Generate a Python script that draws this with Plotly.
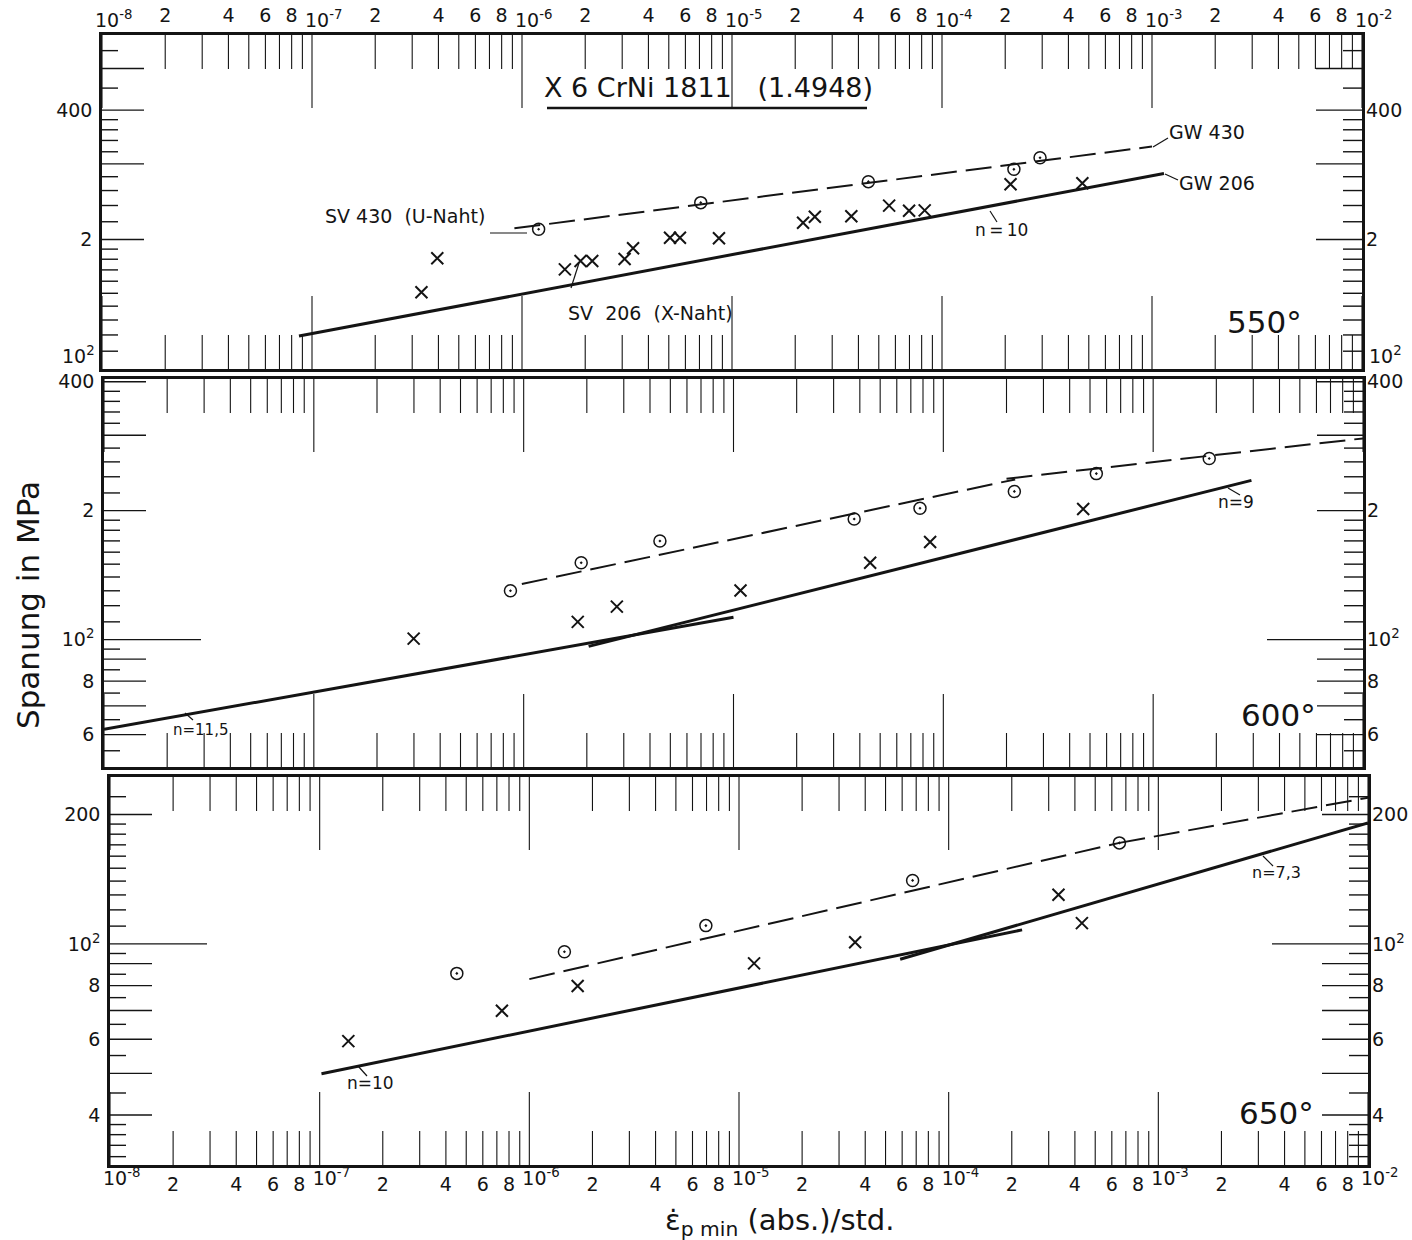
import math
import plotly.graph_objects as go

W, H = 1412, 1240
INK = "#141414"
FONT = "DejaVu Sans"

# ---------------- minimum creep rate (1/h) and stress (MPa) ----------------
# 550 °C
sv206_550_rate = [3.32e-7, 3.95e-7, 1.60e-6, 1.90e-6, 2.16e-6, 3.08e-6, 3.38e-6, 5.07e-6,
                  5.65e-6, 8.67e-6, 2.18e-5, 2.48e-5, 3.70e-5, 5.60e-5, 6.97e-5, 8.27e-5,
                  2.12e-4, 4.66e-4]
sv206_550_stress = [150.8, 180.9, 170.5, 178.3, 178.3, 180.3, 190.9, 202.0,
                    202.0, 201.4, 218.9, 226.0, 226.6, 239.8, 233.4, 233.8,
                    268.9, 270.3]
sv430_550_rate = [1.20e-6, 7.10e-6, 4.46e-5, 2.20e-4, 2.93e-4]
sv430_550_stress = [211.3, 243.7, 272.7, 291.3, 310.0]
gw206_550_rate = [8.67e-8, 1.14e-3]
gw206_550_stress = [119.3, 285.0]
gw430_550_rate = [9.2e-7, 1.0e-3]
gw430_550_stress = [212.4, 329.0]

# 600 °C
sv206_600_rate = [2.99e-7, 1.81e-6, 2.78e-6, 1.08e-5, 4.48e-5, 8.65e-5, 4.64e-4]
sv206_600_stress = [100.5, 110.0, 119.4, 130.2, 151.1, 169.0, 201.8]
sv430_600_rate = [8.65e-7, 1.88e-6, 4.46e-6, 3.76e-5, 7.74e-5, 2.18e-4, 5.36e-4, 1.85e-3]
sv430_600_stress = [130.0, 151.1, 169.9, 191.2, 202.6, 221.8, 244.1, 264.8]
gw206_600a_rate = [1.0e-8, 1.0e-5]
gw206_600a_stress = [61.7, 112.7]
gw206_600b_rate = [2.04e-6, 2.94e-3]
gw206_600b_stress = [96.4, 235.4]
gw430_600a_rate = [9.8e-7, 2.2e-4]
gw430_600a_stress = [134.8, 236.6]
gw430_600b_rate = [2.0e-4, 1.0e-2]
gw430_600b_stress = [237.5, 295.0]

# 650 °C
sv206_650_rate = [1.37e-7, 7.40e-7, 1.70e-6, 1.18e-5, 3.58e-5, 3.34e-4, 4.32e-4]
sv206_650_stress = [59.4, 69.9, 79.8, 90.1, 100.9, 130.1, 111.8]
sv430_650_rate = [4.51e-7, 1.47e-6, 6.95e-6, 6.73e-5, 6.52e-4]
sv430_650_stress = [85.4, 95.9, 110.3, 140.5, 171.8]
gw206_650a_rate = [1.02e-7, 2.24e-4]
gw206_650a_stress = [49.9, 107.8]
gw206_650b_rate = [5.87e-5, 1.0e-2]
gw206_650b_stress = [92.1, 191.2]
gw430_650a_rate = [1.0e-6, 6.52e-4]
gw430_650a_stress = [82.8, 171.8]
gw430_650b_rate = [6.52e-4, 1.0e-2]
gw430_650b_stress = [171.8, 218.8]

# ---------------- tick values ----------------
x_decade_exp = list(range(-8, -1))                      # 10^-8 ... 10^-2
x_decades = [10.0 ** e for e in x_decade_exp]
x_decade_text = ["10<sup>%d</sup>" % e for e in x_decade_exp]
x_minor = [m * 10.0 ** e for e in range(-8, -2) for m in range(2, 10)]
x_digit_vals = [m * 10.0 ** e for e in range(-8, -2) for m in (2, 4, 6, 8)]
x_digit_text = [str(m) for e in range(-8, -2) for m in (2, 4, 6, 8)]

y550_short = [110, 120, 130, 140, 150, 160, 170, 180, 190, 220, 240, 260, 280,
              320, 340, 360, 380, 450, 550]
y550_long = [200, 300, 400, 500]
y550_extra = []
y550_labvals = [200, 400]
y550_labtext = ["2", "400"]

y600_short = [55, 65, 75, 85, 95, 110, 120, 130, 140, 150, 160, 170, 180, 190,
              220, 240, 260, 280, 320, 340, 360, 380]
y600_long = [60, 70, 80, 90, 200, 300, 400]
y600_extra = [100]
y600_labvals = [60, 80, 100, 200, 400]
y600_labtext = ["6", "8", "10<sup>2</sup>", "2", "400"]

y650_short = [32, 34, 36, 38, 45, 55, 65, 75, 85, 95, 110, 120, 130, 140, 150,
              160, 170, 180, 190, 220]
y650_long = [40, 50, 60, 70, 80, 90, 200]
y650_extra = [100]
y650_labvals = [40, 60, 80, 100, 200]
y650_labtext = ["4", "6", "8", "10<sup>2</sup>", "200"]

# ---------------- panel frames (pixels) ----------------
PANELS = [
    dict(n="", rn="4", xpx=(102, 1362), ypx=(35, 369), ylo=100.0, yhi=598.0,
         short=y550_short, long=y550_long, extra=y550_extra,
         labv=y550_labvals, labt=y550_labtext),
    dict(n="2", rn="5", xpx=(104, 1363), ypx=(379, 767), ylo=50.4, yhi=406.0,
         short=y600_short, long=y600_long, extra=y600_extra,
         labv=y600_labvals, labt=y600_labtext),
    dict(n="3", rn="6", xpx=(110, 1368), ypx=(777, 1165), ylo=30.6, yhi=244.5,
         short=y650_short, long=y650_long, extra=y650_extra,
         labv=y650_labvals, labt=y650_labtext),
]

SERIES = [
    (sv206_550_rate, sv206_550_stress, sv430_550_rate, sv430_550_stress,
     [(gw206_550_rate, gw206_550_stress)], [(gw430_550_rate, gw430_550_stress)]),
    (sv206_600_rate, sv206_600_stress, sv430_600_rate, sv430_600_stress,
     [(gw206_600a_rate, gw206_600a_stress), (gw206_600b_rate, gw206_600b_stress)],
     [(gw430_600a_rate, gw430_600a_stress), (gw430_600b_rate, gw430_600b_stress)]),
    (sv206_650_rate, sv206_650_stress, sv430_650_rate, sv430_650_stress,
     [(gw206_650a_rate, gw206_650a_stress), (gw206_650b_rate, gw206_650b_stress)],
     [(gw430_650a_rate, gw430_650a_stress), (gw430_650b_rate, gw430_650b_stress)]),
]

X_LO, X_HI = -8.0, -2.0


def vstrokes(vals, p, edge, length):
    """Vertical tick strokes hanging off the upper or lower frame edge."""
    lo, hi = math.log10(p["ylo"]), math.log10(p["yhi"])
    span = length / (p["ypx"][1] - p["ypx"][0]) * (hi - lo)
    a, b = (hi, hi - span) if edge == "top" else (lo, lo + span)
    xs, ys = [], []
    for v in vals:
        xs += [v, v, None]
        ys += [10 ** a, 10 ** b, None]
    return xs, ys


def hstrokes(vals, p, edge, length):
    """Horizontal tick strokes growing inward from the left or right frame edge."""
    span = length / (p["xpx"][1] - p["xpx"][0]) * (X_HI - X_LO)
    a, b = (X_LO, X_LO + span) if edge == "left" else (X_HI, X_HI - span)
    xs, ys = [], []
    for v in vals:
        xs += [10 ** a, 10 ** b, None]
        ys += [v, v, None]
    return xs, ys


fig = go.Figure()

for p, (xr, xs_, orr, os_, solids, dashes) in zip(PANELS, SERIES):
    xa, ya = "x" + p["n"], "y" + p["n"]

    def strokes(pair, width):
        fig.add_trace(go.Scatter(x=pair[0], y=pair[1], xaxis=xa, yaxis=ya, mode="lines",
                                 line=dict(color=INK, width=width),
                                 hoverinfo="skip", showlegend=False))

    # ticks along the upper and lower frame edges
    for edge in ("top", "bottom"):
        strokes(vstrokes(x_minor, p, edge, 34), 1.1)
        strokes(vstrokes(x_decades, p, edge, 73), 1.1)
    # ticks along the left and right frame edges
    strokes(hstrokes(p["short"], p, "left", 16), 1.4)
    strokes(hstrokes(p["long"], p, "left", 42), 1.4)
    strokes(hstrokes(p["extra"], p, "left", 97), 1.4)
    strokes(hstrokes(p["short"], p, "right", 19), 1.4)
    strokes(hstrokes(p["long"], p, "right", 46), 1.4)
    strokes(hstrokes(p["extra"], p, "right", 96), 1.4)

    # fitted lines: base metal GW 206 (solid) and GW 430 (dashed)
    for rx, ry in solids:
        fig.add_trace(go.Scatter(x=rx, y=ry, xaxis=xa, yaxis=ya, mode="lines",
                                 line=dict(color=INK, width=3),
                                 name="GW 206", showlegend=False))
    for rx, ry in dashes:
        fig.add_trace(go.Scatter(x=rx, y=ry, xaxis=xa, yaxis=ya, mode="lines",
                                 line=dict(color=INK, width=2, dash="26px,9px"),
                                 name="GW 430", showlegend=False))

    # weld specimens
    fig.add_trace(go.Scatter(x=xr, y=xs_, xaxis=xa, yaxis=ya, mode="markers",
                             marker=dict(symbol="x-thin", size=12, color=INK,
                                         line=dict(color=INK, width=2)),
                             name="SV 206 (X-Naht)", showlegend=False))
    fig.add_trace(go.Scatter(x=orr, y=os_, xaxis=xa, yaxis=ya, mode="markers",
                             marker=dict(symbol="circle-open-dot", size=12, color=INK,
                                         line=dict(color=INK, width=1.5)),
                             name="SV 430 (U-Naht)", showlegend=False))
    # same specimens registered on the right-hand stress scale (transparent)
    fig.add_trace(go.Scatter(x=xr, y=xs_, xaxis=xa, yaxis="y" + p["rn"], mode="markers",
                             marker=dict(size=1, opacity=0), hoverinfo="skip",
                             showlegend=False))

# transparent copies that carry the decade labels of the strain-rate scale
fig.add_trace(go.Scatter(x=sv206_550_rate, y=sv206_550_stress, xaxis="x4", yaxis="y",
                         mode="markers", marker=dict(size=1, opacity=0),
                         hoverinfo="skip", showlegend=False))
fig.add_trace(go.Scatter(x=sv206_650_rate, y=sv206_650_stress, xaxis="x5", yaxis="y3",
                         mode="markers", marker=dict(size=1, opacity=0),
                         hoverinfo="skip", showlegend=False))

tickfont = dict(family=FONT, size=19, color=INK)
layout = dict(
    width=W, height=H, margin=dict(l=0, r=0, t=0, b=0, autoexpand=False),
    paper_bgcolor="white", plot_bgcolor="white", showlegend=False,
    font=dict(family=FONT, color=INK),
)

for i, p in enumerate(PANELS):
    xdom = [p["xpx"][0] / W, p["xpx"][1] / W]
    ydom = [1 - p["ypx"][1] / H, 1 - p["ypx"][0] / H]
    yrng = [math.log10(p["ylo"]), math.log10(p["yhi"])]
    xa, ya = "x" + p["n"], "y" + p["n"]
    frame = dict(showline=True, mirror=True, linewidth=2.5, linecolor=INK)
    xside = "top" if i == 0 else "bottom"
    show_x = i in (0, 2)
    layout["xaxis" + p["n"]] = dict(
        type="log", domain=xdom, range=[X_LO, X_HI], anchor=ya, side=xside,
        showgrid=False, zeroline=False, ticks="", tickmode="array",
        tickvals=x_digit_vals, ticktext=x_digit_text, showticklabels=show_x,
        tickfont=tickfont, ticklabelstandoff=(3 if i == 0 else 0), automargin=False,
        **frame)
    layout["yaxis" + p["n"]] = dict(
        type="log", domain=ydom, range=yrng, anchor=xa,
        showgrid=False, zeroline=False, ticks="", tickmode="array",
        tickvals=p["labv"], ticktext=p["labt"], tickfont=tickfont,
        ticklabelstandoff=3, automargin=False, **frame)
    layout["yaxis" + p["rn"]] = dict(
        type="log", domain=ydom, range=yrng, anchor=xa, overlaying=ya, side="right",
        showgrid=False, zeroline=False, showline=False, ticks="", tickmode="array",
        tickvals=p["labv"], ticktext=p["labt"], tickfont=tickfont,
        ticklabelstandoff=3, automargin=False)

# decade labels, set flush right of their tick
for key, base, ya, side, dom, so in (("xaxis4", "x", "y", "top", PANELS[0]["xpx"], 3),
                                     ("xaxis5", "x3", "y3", "bottom", PANELS[2]["xpx"], 0)):
    layout[key] = dict(
        type="log", domain=[dom[0] / W, dom[1] / W], range=[X_LO, X_HI],
        overlaying=base, anchor=ya, side=side, showgrid=False, zeroline=False,
        showline=False, ticks="", tickmode="array", tickvals=x_decades,
        ticktext=x_decade_text, tickfont=tickfont, ticklabelposition="outside right",
        ticklabelshift=-7, ticklabelstandoff=so, automargin=False)

fig.update_layout(**layout)


def P(x, y):
    return x / W, 1 - y / H


notes = [
    ("X\u00a06\u00a0CrNi\u00a01811\u00a0\u00a0\u00a0(1.4948)", 708, 88, 27),
    ("SV\u00a0430\u00a0\u00a0(U-Naht)", 405, 216, 19),
    ("SV\u00a0\u00a0206\u00a0\u00a0(X-Naht)", 650, 313, 19),
    ("GW\u00a0430", 1207, 132, 19),
    ("GW\u00a0206", 1217, 183, 19),
    ("n\u2009=\u200910", 1001, 230, 17),
    ("550°", 1264, 322, 31),
    ("n=11,5", 201, 730, 15),
    ("n=9", 1236, 502, 17),
    ("600°", 1278, 715, 31),
    ("n=10", 370, 1083, 17),
    ("n=7,3", 1276, 873, 16),
    ("650°", 1276, 1113, 31),
    ("\u03b5\u0307<sub>p\u00a0min</sub>\u00a0(abs.)/std.", 780, 1222, 29),
]
ann = []
for text, x, y, size in notes:
    ax, ay = P(x, y)
    ann.append(dict(text=text, x=ax, y=ay, xref="paper", yref="paper",
                    xanchor="center", yanchor="middle", showarrow=False,
                    font=dict(family=FONT, size=size, color=INK)))
ax, ay = P(28, 605)
ann.append(dict(text="Spanung in MPa", x=ax, y=ay, xref="paper", yref="paper",
                textangle=-90, showarrow=False, xanchor="center", yanchor="middle",
                font=dict(family=FONT, size=31, color=INK)))
# 10^2 at the lower edge of the 550 °C frame, set just above the edge
for xa_, anchor, shift in ((0, "right", -5), (1, "left", 5)):
    ann.append(dict(text="10<sup>2</sup>", x=xa_, y=0, xref="x domain", yref="y domain",
                    xanchor=anchor, yanchor="bottom", xshift=shift, yshift=0,
                    showarrow=False, font=tickfont))

leaders = [
    (490, 233, 527, 233), (579, 263, 571, 288), (1153, 147, 1168, 138),
    (1165, 174, 1178, 180), (990, 211, 997, 222), (185, 713, 193, 720),
    (1228, 488, 1240, 495), (358, 1066, 367, 1076), (1263, 856, 1273, 866),
]
shapes = []
for x0, y0, x1, y1 in leaders:
    a0, b0 = P(x0, y0)
    a1, b1 = P(x1, y1)
    shapes.append(dict(type="line", xref="paper", yref="paper", x0=a0, y0=b0, x1=a1, y1=b1,
                       line=dict(color=INK, width=1.2)))
u0, v0 = P(547, 108)
u1, v1 = P(867, 108)
shapes.append(dict(type="line", xref="paper", yref="paper", x0=u0, y0=v0, x1=u1, y1=v1,
                   line=dict(color=INK, width=2.5)))

fig.update_layout(annotations=ann, shapes=shapes)
fig.write_html("out.html", config={"displayModeBar": False})
